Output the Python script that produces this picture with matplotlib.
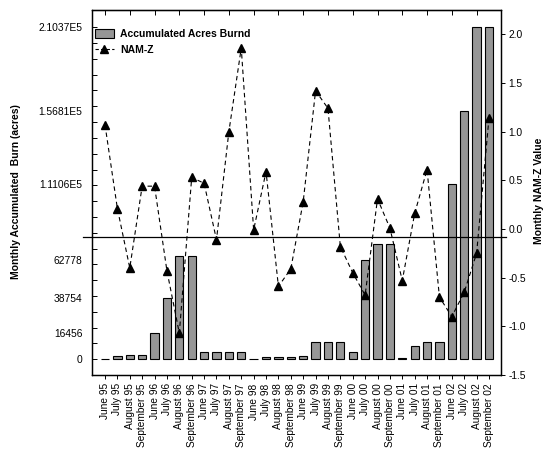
"""Accumulated acres burned (bars) with monthly NAM-Z values (dashed line)."""
import matplotlib
matplotlib.use("Agg")
import matplotlib.pyplot as plt
import numpy as np
from matplotlib.lines import Line2D
from matplotlib.patches import Patch
from matplotlib.ticker import NullFormatter

plt.rcParams["font.family"] = ["Liberation Sans", "DejaVu Sans"]

months = ["June", "July", "August", "September"]
years = ["95", "96", "97", "98", "99", "00", "01", "02"]
categories = [f"{m} {y}" for y in years for m in months]

acres = [500, 1900, 2500, 2700,
         16456, 38754, 65300, 65300,
         4400, 4400, 4400, 4400,
         500, 1200, 1600, 1600,
         1900, 11100, 11100, 11100,
         4800, 62778, 72900, 72900,
         600, 8600, 10700, 10700,
         111060, 156810, 210370, 210370]

namz = [1.07, 0.21, -0.40, 0.44,
        0.44, -0.43, -1.07, 0.53,
        0.47, -0.11, 1.00, 1.86,
        -0.01, 0.59, -0.59, -0.41,
        0.28, 1.42, 1.24, -0.18,
        -0.45, -0.68, 0.31, 0.01,
        -0.53, 0.16, 0.61, -0.70,
        -0.90, -0.65, -0.25, 1.14]

acre_ticks = [0, 16456, 38754, 62778, 111060, 156810, 210370]
acre_tick_labels = ["0", "16456", "38754", "62778", "1.1106E5", "1.5681E5", "2.1037E5"]
namz_ticks = [-1.5, -1.0, -0.5, 0.0, 0.5, 1.0, 1.5, 2.0]
break_level = -0.086

fig = plt.figure(figsize=(5.45, 4.53), dpi=100)
ax = fig.add_axes([92 / 545, 78 / 453, 409 / 545, 365 / 453])
x = np.arange(len(categories))

ax.bar(x, acres, width=0.67, color="#969696", edgecolor="black", linewidth=0.8, zorder=2)
ax.set_xlim(-1.05, 31.97)
ax.set_ylim(-9930, 220900)

ax2 = ax.twinx()

# unlabeled ticks every 10000 acres, labels sit on selected bar values
ax.yaxis.remove_overlapping_locs = False
ax.set_yticks(np.arange(0, 210001, 10000))
ax.yaxis.set_major_formatter(NullFormatter())
ax.set_yticks(acre_ticks, labels=acre_tick_labels, minor=True)
ax.tick_params(axis="y", which="major", direction="in", length=3.5, width=0.7)
ax.tick_params(axis="y", which="minor", length=0, pad=7, labelsize=7.4, labelleft=True)

ax.set_xticks(x, labels=categories, rotation=90)
ax.tick_params(axis="x", direction="out", length=3, width=0.7, pad=3, labelsize=7.3)

top = ax.secondary_xaxis("top")
top.set_xticks(x[::2])
top.tick_params(direction="in", length=3.5, width=0.7, labeltop=False)

ax2.plot(x, namz, color="black", linestyle=(0, (4, 3)), linewidth=0.8,
         marker="^", markersize=5.5, markerfacecolor="black", zorder=3)
ax2.set_ylim(-1.5, 2.25)
ax2.set_yticks(namz_ticks, labels=[f"{t:.1f}" for t in namz_ticks])
ax2.tick_params(axis="y", direction="out", length=3, width=0.7, pad=2.5, labelsize=7.4)
ax2.axhline(break_level, xmin=-0.022, xmax=1.012, color="black", linewidth=0.9, clip_on=False)

for a in (ax, ax2):
    for s in a.spines.values():
        s.set_linewidth(0.9)

handles = [Patch(facecolor="#969696", edgecolor="black", linewidth=0.8),
           Line2D([], [], color="black", linestyle=(0, (3, 2)), linewidth=0.8,
                  marker="^", markersize=5.5)]
ax2.legend(handles, ["Accumulated Acres Burnd", "NAM-Z"], loc="upper left",
           bbox_to_anchor=(0.007, 0.947), frameon=False, borderpad=0, borderaxespad=0,
           handlelength=1.85, handleheight=0.9, handletextpad=0.6, labelspacing=0.55,
           prop={"weight": "bold", "size": 7.5})

fig.text(16 / 545, 1 - 192 / 453, "Monthly Accumulated  Burn (acres)", rotation=90,
         ha="center", va="center", fontsize=7.5, fontweight="bold")
fig.text(538.5 / 545, 1 - 191 / 453, "Monthly NAM-Z Value", rotation=90,
         ha="center", va="center", fontsize=7.5, fontweight="bold")

fig.savefig("out.png", dpi=100)
plt.close(fig)
